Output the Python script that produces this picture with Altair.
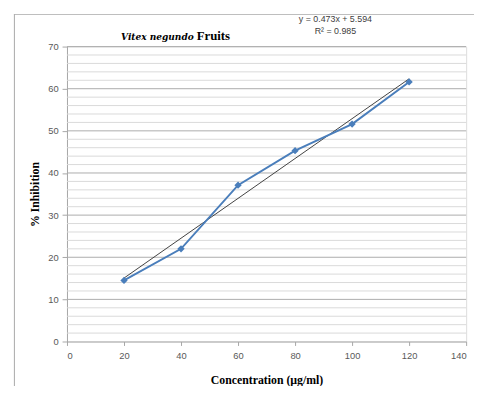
import altair as alt
import pandas as pd

# data
concentration = [20, 40, 60, 80, 100, 120]
inhibition = [14.5, 22.0, 37.1, 45.3, 51.6, 61.6]
slope = 0.473
intercept = 5.594
r2 = 0.985
x_ticks = [0, 20, 40, 60, 80, 100, 120, 140]
y_ticks = [0, 10, 20, 30, 40, 50, 60, 70]
minor_grid = [v for v in range(0, 71, 2) if v % 10 != 0]

df = pd.DataFrame({"x": concentration, "y": inhibition})
trend = pd.DataFrame({"x": [concentration[0], concentration[-1]],
                      "y": [slope * concentration[0] + intercept,
                            slope * concentration[-1] + intercept]})

SERIF = "Liberation Serif"

xs = alt.Scale(domain=[0, 140], nice=False)
ys = alt.Scale(domain=[0, 70], nice=False)

x_axis = alt.Axis(values=x_ticks, title="Concentration (µg/ml)", grid=False,
                  labelFont="Liberation Sans", labelFontSize=9.5, labelColor="#595959",
                  labelPadding=5, tickSize=4, tickColor="#a6a6a6", domainColor="#a6a6a6",
                  titleFont=SERIF, titleFontSize=12, titleFontWeight="bold",
                  titleColor="#000000", titlePadding=15)
y_axis = alt.Axis(values=y_ticks, title="% Inhibition", grid=False,
                  labelFont="Liberation Sans", labelFontSize=9.5, labelColor="#595959",
                  labelPadding=4, tickSize=5, tickColor="#a6a6a6", domainColor="#a6a6a6",
                  titleFont=SERIF, titleFontSize=12, titleFontWeight="bold",
                  titleColor="#000000", titlePadding=6)

frame_left = alt.Chart(pd.DataFrame({"a": [0]})).mark_rect(color="#a8a8a8").encode(
    x=alt.value(-54), x2=alt.value(-53), y=alt.value(-33), y2=alt.value(400))
frame_top = alt.Chart(pd.DataFrame({"a": [0]})).mark_rect(color="#a8a8a8").encode(
    x=alt.value(-54), x2=alt.value(420), y=alt.value(-33), y2=alt.value(-32))

minor = alt.Chart(pd.DataFrame({"g": minor_grid})).mark_rule(color="#d9d9d9", strokeWidth=1).encode(
    y=alt.Y("g:Q", scale=ys, axis=y_axis), x=alt.value(0), x2=alt.value(406))
major = alt.Chart(pd.DataFrame({"g": y_ticks[1:]})).mark_rule(color="#ababab", strokeWidth=1).encode(
    y=alt.Y("g:Q", scale=ys), x=alt.value(0), x2=alt.value(406))

trend_line = alt.Chart(trend).mark_line(color="#404040", strokeWidth=1).encode(
    x=alt.X("x:Q", scale=xs, axis=x_axis), y=alt.Y("y:Q", scale=ys))

series = alt.Chart(df).mark_line(color="#4a7ebb", strokeWidth=2,
                                 point=alt.OverlayMarkDef(shape="diamond", size=55, filled=True,
                                                          color="#4a7ebb")).encode(
    x=alt.X("x:Q", scale=xs), y=alt.Y("y:Q", scale=ys))

title1 = alt.Chart(pd.DataFrame({"t": ["Vitex negundo"]})).mark_text(
    font="DejaVu Serif Condensed", fontSize=10.2, fontWeight="bold", fontStyle="italic",
    align="left", baseline="alphabetic", color="#000000"
).encode(text="t:N", x=alt.value(55), y=alt.value(-7))
title2 = alt.Chart(pd.DataFrame({"t": ["Fruits"]})).mark_text(
    font=SERIF, fontSize=13, fontWeight="bold",
    align="left", baseline="alphabetic", color="#000000"
).encode(text="t:N", x=alt.value(132), y=alt.value(-7))

eq = alt.Chart(pd.DataFrame({"t": [f"y = {slope}x + {intercept}", f"R² = {r2}"],
                             "yy": [-25, -13]})).mark_text(
    font="Liberation Sans", fontSize=9, color="#404040", align="center", baseline="alphabetic"
).encode(text="t:N", x=alt.value(273), y=alt.Y("yy:Q", scale=None))

chart = alt.layer(frame_left, frame_top, minor, major, trend_line, series, title1, title2, eq).properties(
    width=406, height=300,
    autosize=alt.AutoSizeParams(type="none"),
    padding={"left": 60, "top": 36, "right": 8, "bottom": 42},
).configure_view(stroke=None).configure(background="white")

chart.save("out.html", embed_options={"renderer": "svg", "actions": False})
